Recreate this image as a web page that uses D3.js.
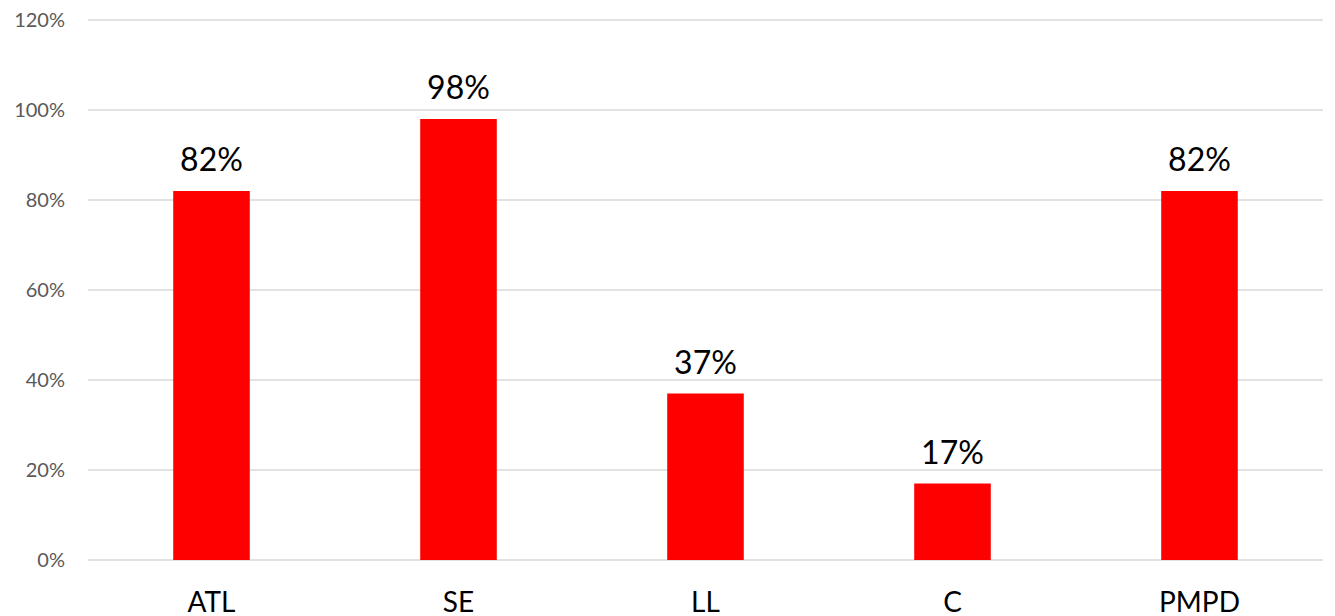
<!DOCTYPE html>
<html lang="en">
  <head>
    <meta charset="UTF-8" />
    <title>Bar chart</title>
    <script src="https://d3js.org/d3.v7.min.js"></script>
    <style>
      body {
        margin: 0;
        background: #fff;
        font-family: Lato, "Noto Sans", sans-serif;
      }
      .grid line {
        stroke: #d9d9d9;
        stroke-width: 1.3px;
      }
      .ytick text {
        fill: #595959;
        font-size: 20px;
      }
    </style>
  </head>
  <body>
    <svg id="chart" width="1335" height="616"></svg>
    <script>
      const categories = ["ATL", "SE", "LL", "C", "PMPD"];
      const values = [82, 98, 37, 17, 82];
      const yTicks = [0, 20, 40, 60, 80, 100, 120];

      const margin = { top: 20, right: 12, bottom: 56, left: 88 };
      const width = 1335, height = 616;

      const svg = d3.select("#chart");

      const x = d3
        .scaleBand()
        .domain(categories)
        .range([margin.left, width - margin.right])
        .paddingInner(0.69)
        .paddingOuter(0.345);

      const y = d3
        .scaleLinear()
        .domain([0, 120])
        .range([height - margin.bottom, margin.top]);

      // gridlines
      svg
        .append("g")
        .attr("class", "grid")
        .selectAll("line")
        .data(yTicks)
        .enter()
        .append("line")
        .attr("x1", margin.left)
        .attr("x2", width - margin.right)
        .attr("y1", (d) => y(d))
        .attr("y2", (d) => y(d));

      // y labels
      svg
        .append("g")
        .attr("class", "ytick")
        .selectAll("text")
        .data(yTicks)
        .enter()
        .append("text")
        .attr("x", 65)
        .attr("y", (d) => y(d))
        .attr("dy", "0.36em")
        .attr("text-anchor", "end")
        .text((d) => d + "%");

      // bars
      svg
        .selectAll(".bar")
        .data(values)
        .enter()
        .append("rect")
        .attr("class", "bar")
        .attr("x", (d, i) => x(categories[i]))
        .attr("width", x.bandwidth())
        .attr("y", (d) => y(d))
        .attr("height", (d) => y(0) - y(d))
        .attr("fill", "#ff0000");

      // value labels
      svg
        .selectAll(".val")
        .data(values)
        .enter()
        .append("text")
        .attr("class", "val")
        .attr("x", (d, i) => x(categories[i]) + x.bandwidth() / 2)
        .attr("y", (d) => y(d) - 20)
        .attr("text-anchor", "middle")
        .style("font-size", "32px")
        .style("fill", "#000")
        .text((d) => d + "%");

      // category labels
      svg
        .selectAll(".cat")
        .data(categories)
        .enter()
        .append("text")
        .attr("class", "cat")
        .attr("x", (d) => x(d) + x.bandwidth() / 2)
        .attr("y", 612)
        .attr("text-anchor", "middle")
        .style("font-size", "28px")
        .style("fill", "#000")
        .text((d) => d);
    </script>
  </body>
</html>
